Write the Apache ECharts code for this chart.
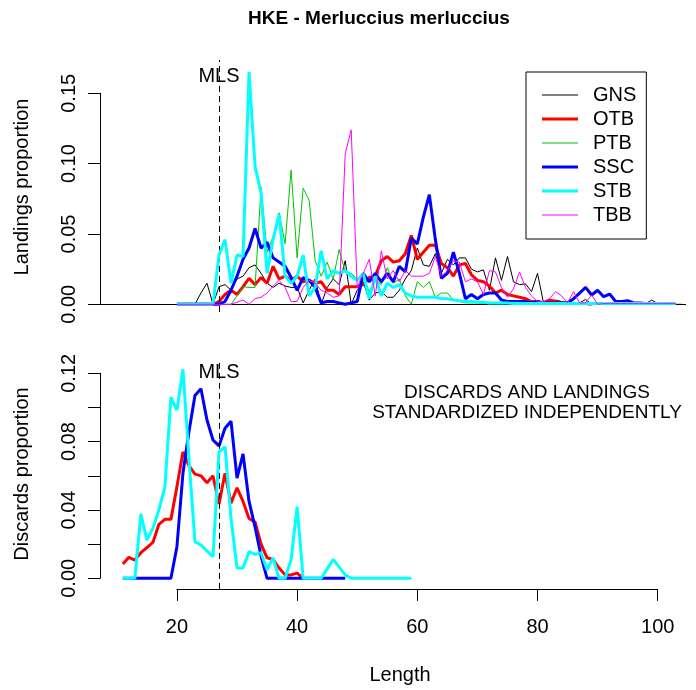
<!DOCTYPE html>
<html><head><meta charset="utf-8">
<script src="https://cdn.jsdelivr.net/npm/echarts@6/dist/echarts.min.js"></script>
<style>html,body{margin:0;padding:0;background:#fff}#c{width:696px;height:690px}</style>
</head><body><div id="c"></div>
<script>
// ---------- data ----------
const seriesNames = ['GNS', 'OTB', 'PTB', 'SSC', 'STB', 'TBB'];
const landStart = 20;   // first length class of the landings curves
const discStart = 11;   // first length class of the discards curves
const mlsLength = 27;
const lengthTicks = [20, 40, 60, 80, 100];
const landTicks = [0, 0.05, 0.10, 0.15];
const discTicks = [0, 0.04, 0.08, 0.12];

const landGNS = [0,0,0,0,0.008,0.015,0,0.0125,0.014,0.010,
 0.018,0.020,0.026,0.028,0.022,0.015,0.012,0.015,0.013,0.012,
 0.012,0.001,0.010,0.018,0.000,0.012,0.018,0.014,0.031,0.000,
 0.010,0.016,0.003,0.008,0.009,0.005,0.005,0.010,0.018,0.024,
 0.040,0.028,0.027,0.036,0.022,0.032,0.028,0.033,0.033,0.025,
 0.023,0.0245,0.010,0.033,0.017,0.034,0.016,0.014,0.0145,0.009,
 0.022,0.001,0.002,0.003,0.002,0.001,0.000,0.001,0.0035,0.000,
 0,0,0,0,0,0,0,0,0.0005,0.003,
 0.0005,0,0,0,0];
const landOTB = [0,0,0,0,0,0,0,0.002,0.007,0.010,
 0.007,0.0125,0.0185,0.014,0.019,0.015,0.027,0.018,0.020,0.017,
 0.020,0.016,0.017,0.015,0.016,0.010,0.010,0.007,0.0125,0.0125,
 0.0125,0.014,0.019,0.020,0.031,0.034,0.030,0.031,0.036,0.049,
 0.032,0.037,0.042,0.042,0.029,0.026,0.020,0.028,0.029,0.021,
 0.017,0.016,0.013,0.008,0.010,0.007,0.006,0.005,0.004,0.002,
 0.002,0.001,0.003,0.002,0.001,0.001,0.0005,0.0005,0.0005,0];
const landPTB = [0,0,0,0,0,0,0,0,0,0,
 0.006,0.0125,0.012,0.012,0.083,0.037,0.048,0.065,0.043,0.0955,
 0.033,0.0825,0.074,0.031,0.020,0.030,0.018,0.039,0.023,0.022,
 0.018,0.020,0.009,0.017,0.014,0.026,0.015,0.018,0.006,0.000,
 0.016,0.012,0.016,0.005,0.008,0.008,0.003,0.002,0.001,0.001,
 0.001,0.0005,0.0005,0.0005,0.0005,0.0005,0.0005,0.0005,0.0005,0.0005,
 0.0005,0];
const landSSC = [0,0,0,0,0,0,0,0,0.002,0.010,
 0.020,0.032,0.040,0.054,0.040,0.044,0.033,0.030,0.027,0.019,
 0.010,0.019,0.017,0.012,0.001,0.002,0.002,0.001,0.000,0.001,
 0.002,0.022,0.016,0.022,0.016,0.022,0.016,0.027,0.023,0.047,
 0.043,0.062,0.078,0.046,0.0185,0.022,0.037,0.022,0.004,0.007,
 0.004,0.007,0.008,0.008,0.003,0.002,0.002,0.002,0.002,0.001,
 0.002,0.001,0.001,0.001,0.001,0.001,0.004,0.008,0.012,0.0066,
 0.010,0.0054,0.0073,0.002,0.002,0.0026,0.001,0.001,0.0005,0.0005,
 0.0005,0.0005,0.0005];
const landSTB = [0,0,0,0,0,0,0,0.035,0.046,0.015,
 0.035,0.034,0.165,0.098,0.079,0.022,0.046,0.064,0.020,0.015,
 0.020,0.035,0.006,0.012,0.038,0.018,0.024,0.022,0.024,0.020,
 0.017,0.022,0.004,0.020,0.006,0.015,0.012,0.014,0.008,0.006,
 0.005,0.005,0.005,0.005,0.004,0.004,0.003,0.0025,0.002,0.002,
 0.0015,0.0015,0.001,0.001,0.001,0.001,0.0005,0.0005,0.0005,0.0005,
 0.0005,0.0005,0.0005,0.0005,0.0005,0.0005,0.0005,0.0005,0.0005,0.0005,
 0.0005,0.0005,0.0005,0.0005,0.0005,0.0005,0.0005,0.0005,0.0005,0.0005,
 0.0005,0.0005,0.0005,0.0005];
const landTBB = [0,0,0,0,0,0,0,0,0,0,
 0.0015,0.003,0.000,0.004,0.005,0.008,0.013,0.017,0.012,0.002,
 0.002,0.012,0.017,0.015,0.010,0.008,0.005,0.006,0.107,0.124,
 0.012,0.022,0.032,0.006,0.038,0.018,0.024,0.016,0.024,0.020,
 0.020,0.020,0.022,0.034,0.020,0.024,0.031,0.030,0.016,0.018,
 0.016,0.007,0.024,0.023,0.012,0.005,0.011,0.023,0.012,0.006,
 0.002,0.002,0.004,0.009,0.006,0.001,0.009,0.001,0.001,0.0066,
 0.000,0.0005,0.0005,0.0005,0.0005,0.0005,0.0005,0.0005,0.0005,0.0005,
 0.0005,0.0005,0.0005,0.0005];

const discOTB = [0.0084,0.0123,0.0107,0.015,0.018,0.021,0.0316,0.0345,0.0345,
 0.0536,0.074,0.066,0.061,0.060,0.056,0.060,0.0435,0.0615,0.044,
 0.053,0.045,0.035,0.033,0.020,0.012,0.011,0.006,0.002,0.002,
 0.003,0.0];
const discSSC = [0,0,0,0,0,0,0,0,0,
 0.0185,0.0615,0.0858,0.107,0.111,0.0927,0.081,0.0775,0.0878,0.092,
 0.0586,0.0728,0.045,0.030,0.013,0,0,0,0,0,
 0,0,0,0,0,0,0,0,0];
const discSTB = [0,0,0,0.0377,0.0224,0.0293,0.040,0.0536,0.106,
 0.0985,0.1224,0.070,0.0214,0.0195,0.016,0.0127,0.074,0.077,0.035,
 0.006,0.006,0.0157,0.014,0.015,0.005,0.012,0.0,0.0,0.011,
 0.042,0,0,0,0,0.0055,0.011,0.0065,0.002,0,
 0,0,0,0,0,0,0,0,0,0];

// ---------- styling ----------
const colors = {GNS:'#000000', OTB:'#FF0000', PTB:'#00C400', SSC:'#0000FF', STB:'#00FFFF', TBB:'#FF00FF'};
const widths = {GNS:1, OTB:3, PTB:1, SSC:3, STB:3, TBB:1};
const FONT = '"Liberation Sans", Arial, Helvetica, sans-serif';

function pairs(start, arr) { return arr.map((v, i) => [start + i, v]); }

const landData = {GNS: landGNS, OTB: landOTB, PTB: landPTB, SSC: landSSC, STB: landSTB, TBB: landTBB};
const discData = {OTB: discOTB, SSC: discSSC, STB: discSTB};

const PX_PER_UNIT = 6.01;
const X_MIN = 7.2;
const GRID_W = 586;
const X_MAX = X_MIN + GRID_W / PX_PER_UNIT;

const series = [];
seriesNames.forEach((n, i) => {
  const s = {
    name: n, type: 'line', xAxisIndex: 0, yAxisIndex: 0,
    data: pairs(landStart, landData[n]), symbol: 'none', showSymbol: false, silent: true,
    lineStyle: {color: colors[n], width: widths[n]}, itemStyle: {color: colors[n]},
    z: 3 + i
  };
  if (i === 0) {
    s.markLine = {
      silent: true, symbol: ['none', 'none'], label: {show: false}, animation: false,
      data: [
        {yAxis: 0, lineStyle: {color: '#000', width: 1, type: 'solid'}},
        {xAxis: mlsLength, lineStyle: {color: '#000', width: 1, type: [6, 4]}}
      ]
    };
  }
  series.push(s);
});
['OTB', 'SSC', 'STB'].forEach((n, i) => {
  const s = {
    name: n, type: 'line', xAxisIndex: 1, yAxisIndex: 1,
    data: pairs(discStart, discData[n]), symbol: 'none', showSymbol: false, silent: true,
    lineStyle: {color: colors[n], width: widths[n]}, itemStyle: {color: colors[n]},
    z: 3 + i
  };
  if (i === 0) {
    s.markLine = {
      silent: true, symbol: ['none', 'none'], label: {show: false}, animation: false,
      data: [{xAxis: mlsLength, lineStyle: {color: '#000', width: 1, type: [6, 4]}}]
    };
  }
  series.push(s);
});

const axisCommon = {
  axisLine: {show: true, lineStyle: {color: '#000', width: 1}},
  axisTick: {show: true, length: 12, lineStyle: {color: '#000', width: 1}},
  splitLine: {show: false},
  axisLabel: {color: '#000', fontSize: 20, fontFamily: FONT}
};

const legendData = seriesNames.map(n => ({
  name: n,
  icon: 'path://M0,0H36V' + widths[n] + 'H0Z'
}));

const option = {
  animation: false,
  backgroundColor: '#fff',
  grid: [
    {left: 100, top: 60, width: GRID_W, height: 252, outerBoundsMode: 'none'},
    {left: 100, top: 360, width: GRID_W, height: 228.9, outerBoundsMode: 'none'},
    {left: 100, top: 93.3, width: 10, height: 211, outerBoundsMode: 'none'},
    {left: 100, top: 373.3, width: 10, height: 205, outerBoundsMode: 'none'},
    {left: 176.9, top: 500, width: 480.8, height: 88.9, outerBoundsMode: 'none'}
  ],
  xAxis: [
    {type: 'value', gridIndex: 0, min: X_MIN, max: X_MAX, show: false},
    {type: 'value', gridIndex: 1, min: X_MIN, max: X_MAX, show: false},
    {type: 'value', gridIndex: 2, min: 0, max: 1, show: false},
    {type: 'value', gridIndex: 3, min: 0, max: 1, show: false},
    Object.assign({}, axisCommon, {
      type: 'value', gridIndex: 4, position: 'bottom',
      min: lengthTicks[0], max: lengthTicks[lengthTicks.length - 1], interval: 20,
      axisLabel: Object.assign({}, axisCommon.axisLabel, {margin: 8, padding: [21, 0, 0, 0]})
    })
  ],
  yAxis: [
    {type: 'value', gridIndex: 0, min: -0.005474, max: 0.17367, show: false},
    {type: 'value', gridIndex: 1, min: -0.006206, max: 0.12781, show: false},
    Object.assign({}, axisCommon, {
      type: 'value', gridIndex: 2, position: 'left',
      min: landTicks[0], max: landTicks[landTicks.length - 1], interval: 0.05,
      axisLabel: Object.assign({}, axisCommon.axisLabel, {rotate: 90, margin: 21,
        formatter: v => v.toFixed(2)})
    }),
    Object.assign({}, axisCommon, {
      type: 'value', gridIndex: 3, position: 'left',
      min: discTicks[0], max: discTicks[discTicks.length - 1], interval: 0.02,
      axisLabel: Object.assign({}, axisCommon.axisLabel, {rotate: 90, margin: 21,
        formatter: v => discTicks.some(t => Math.abs(t - v) < 1e-9) ? v.toFixed(2) : ''})
    }),
    {type: 'value', gridIndex: 4, min: 0, max: 1, show: false}
  ],
  legend: {
    data: legendData, orient: 'vertical', left: 526, top: 72,
    padding: [13, 10, 14, 16], itemWidth: 36, itemHeight: 14, itemGap: 4,
    borderColor: '#000', borderWidth: 1, borderRadius: 0,
    selectedMode: false, symbolKeepAspect: true,
    textStyle: {color: '#000', fontSize: 20, fontFamily: FONT, padding: [0, 0, 0, 10]}
  },
  graphic: [
    {type: 'text', x: 379, y: 19, style: {text: 'HKE - Merluccius merluccius', font: 'bold 19px ' + FONT, fill: '#000', align: 'center', verticalAlign: 'middle'}},
    {type: 'text', x: 22.5, y: 187, rotation: Math.PI / 2, style: {text: 'Landings proportion', font: '20px ' + FONT, fill: '#000', align: 'center', verticalAlign: 'middle'}},
    {type: 'text', x: 22.5, y: 474, rotation: Math.PI / 2, style: {text: 'Discards proportion', font: '20px ' + FONT, fill: '#000', align: 'center', verticalAlign: 'middle'}},
    {type: 'text', x: 400, y: 675, style: {text: 'Length', font: '20px ' + FONT, fill: '#000', align: 'center', verticalAlign: 'middle'}},
    {type: 'text', x: 219, y: 76, style: {text: 'MLS', font: '20px ' + FONT, fill: '#000', align: 'center', verticalAlign: 'middle'}},
    {type: 'text', x: 219, y: 372.5, style: {text: 'MLS', font: '20px ' + FONT, fill: '#000', align: 'center', verticalAlign: 'middle'}},
    {type: 'text', x: 527, y: 393, style: {text: 'DISCARDS AND LANDINGS', font: '19px ' + FONT, fill: '#000', align: 'center', verticalAlign: 'middle'}},
    {type: 'text', x: 527, y: 413, style: {text: 'STANDARDIZED INDEPENDENTLY', font: '19px ' + FONT, fill: '#000', align: 'center', verticalAlign: 'middle'}}
  ],
  series: series
};

const chart = echarts.init(document.getElementById('c'), null, {renderer: 'canvas'});
chart.setOption(option);
</script>
</body></html>
